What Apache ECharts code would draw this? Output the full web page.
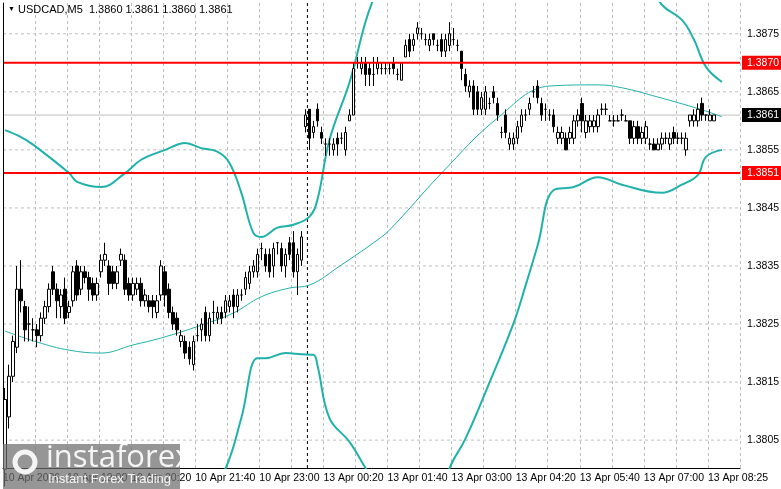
<!DOCTYPE html>
<html><head><meta charset="utf-8">
<script src="https://cdn.jsdelivr.net/npm/echarts@6/dist/echarts.min.js"></script>
<style>html,body{margin:0;padding:0;background:#fff}#c{width:781px;height:489px}</style>
</head><body><div id="c"></div>
<script>
const xTickLabels = ["10 Apr 2026","10 Apr 19:00","10 Apr 20:20","10 Apr 21:40","10 Apr 23:00","13 Apr 00:20","13 Apr 01:40","13 Apr 03:00","13 Apr 04:20","13 Apr 05:40","13 Apr 07:00","13 Apr 08:25"];
const yTickValues = [1.3805,1.3815,1.3825,1.3835,1.3845,1.3855,1.3865,1.3875];
const levels = [1.3870, 1.3851];
const lastPrice = 1.3861;
const daySeparatorBar = 76;
const opens = [1.3800,1.3809,1.3816,1.3821,1.3831,1.3828,1.3825,1.3824,1.3824,1.3823,1.3826,1.3828,1.3834,1.3831,1.3828,1.3831,1.3827,1.3829,1.3835,1.3831,
1.3834,1.3833,1.3832,1.3830,1.3834,1.3836,1.3835,1.3834,1.3832,1.3836,1.3836,1.3832,1.3830,1.3831,1.3832,1.3829,1.3829,1.3829,1.3827,1.3830,
1.3834,1.3831,1.3827,1.3826,1.3822,1.3822,1.3821,1.3818,1.3823,1.3824,1.3827,1.3823,1.3827,1.3826,1.3827,1.3827,1.3828,1.3830,1.3828,1.3830,
1.3831,1.3832,1.3834,1.3834,1.3838,1.3837,1.3837,1.3835,1.3839,1.3838,1.3835,1.3839,1.3839,1.3834,1.3836,1.3859,1.3862,1.3858,1.3862,1.3858,
1.3856,1.3856,1.3855,1.3857,1.3857,1.3855,1.3860,1.3861,1.3870,1.3869,1.3870,1.3869,1.3868,1.3869,1.3869,1.3869,1.3869,1.3870,1.3868,1.3867,
1.3871,1.3874,1.3873,1.3875,1.3875,1.3874,1.3873,1.3875,1.3873,1.3874,1.3872,1.3873,1.3874,1.3873,1.3872,1.3868,1.3865,1.3866,1.3865,1.3862,
1.3862,1.3863,1.3865,1.3863,1.3858,1.3861,1.3856,1.3856,1.3857,1.3859,1.3861,1.3862,1.3865,1.3866,1.3863,1.3862,1.3861,1.3861,1.3857,1.3857,
1.3857,1.3857,1.3857,1.3860,1.3863,1.3858,1.3859,1.3859,1.3859,1.3862,1.3862,1.3860,1.3860,1.3860,1.3861,1.3860,1.3860,1.3857,1.3859,1.3857,
1.3857,1.3856,1.3856,1.3855,1.3856,1.3857,1.3856,1.3858,1.3857,1.3857,1.3855,1.3860,1.3860,1.3860,1.3863,1.3861,1.3860,1.3860];
const closes = [1.3812,1.3816,1.3822,1.3831,1.3829,1.3824,1.3825,1.3824,1.3823,1.3826,1.3828,1.3831,1.3831,1.3829,1.3830,1.3826,1.3828,1.3834,1.3830,1.3834,
1.3833,1.3831,1.3830,1.3832,1.3836,1.3837,1.3832,1.3832,1.3834,1.3837,1.3831,1.3830,1.3832,1.3832,1.3829,1.3830,1.3828,1.3828,1.3829,1.3835,
1.3830,1.3827,1.3825,1.3824,1.3823,1.3820,1.3819,1.3822,1.3823,1.3825,1.3823,1.3826,1.3827,1.3827,1.3826,1.3829,1.3829,1.3828,1.3830,1.3830,
1.3833,1.3834,1.3835,1.3837,1.3838,1.3835,1.3834,1.3838,1.3839,1.3835,1.3837,1.3837,1.3834,1.3837,1.3840,1.3861,1.3857,1.3859,1.3860,1.3857,
1.3856,1.3856,1.3856,1.3856,1.3857,1.3858,1.3861,1.3869,1.3870,1.3870,1.3868,1.3868,1.3868,1.3870,1.3869,1.3869,1.3869,1.3869,1.3868,1.3870,
1.3873,1.3872,1.3874,1.3876,1.3875,1.3874,1.3874,1.3874,1.3873,1.3872,1.3874,1.3875,1.3874,1.3873,1.3869,1.3866,1.3866,1.3862,1.3862,1.3864,
1.3865,1.3863,1.3864,1.3861,1.3858,1.3858,1.3857,1.3857,1.3859,1.3861,1.3861,1.3863,1.3865,1.3864,1.3861,1.3862,1.3861,1.3859,1.3858,1.3858,
1.3855,1.3858,1.3860,1.3861,1.3860,1.3860,1.3860,1.3860,1.3861,1.3862,1.3862,1.3860,1.3860,1.3860,1.3861,1.3860,1.3857,1.3859,1.3857,1.3858,
1.3859,1.3856,1.3855,1.3856,1.3857,1.3857,1.3857,1.3857,1.3857,1.3857,1.3857,1.3861,1.3861,1.3862,1.3861,1.3861,1.3861,1.3861];
const lows = [1.3797,1.3807,1.3815,1.3820,1.3827,1.3822,1.3822,1.3822,1.3821,1.3822,1.3825,1.3827,1.3830,1.3826,1.3826,1.3825,1.3826,1.3828,1.3829,1.3830,
1.3832,1.3829,1.3829,1.3829,1.3833,1.3835,1.3830,1.3831,1.3831,1.3835,1.3830,1.3829,1.3829,1.3830,1.3828,1.3828,1.3827,1.3826,1.3826,1.3829,
1.3828,1.3826,1.3824,1.3823,1.3821,1.3819,1.3818,1.3817,1.3822,1.3822,1.3822,1.3822,1.3825,1.3825,1.3825,1.3826,1.3827,1.3826,1.3827,1.3829,
1.3830,1.3831,1.3833,1.3833,1.3836,1.3834,1.3833,1.3833,1.3837,1.3834,1.3833,1.3836,1.3833,1.3830,1.3835,1.3858,1.3855,1.3857,1.3859,1.3856,
1.3854,1.3854,1.3854,1.3854,1.3856,1.3854,1.3860,1.3861,1.3869,1.3868,1.3866,1.3866,1.3866,1.3868,1.3868,1.3868,1.3868,1.3868,1.3867,1.3867,
1.3871,1.3871,1.3872,1.3874,1.3874,1.3873,1.3872,1.3873,1.3872,1.3871,1.3871,1.3872,1.3873,1.3872,1.3867,1.3865,1.3864,1.3861,1.3861,1.3861,
1.3861,1.3862,1.3863,1.3860,1.3857,1.3857,1.3855,1.3855,1.3856,1.3858,1.3860,1.3861,1.3864,1.3863,1.3860,1.3860,1.3860,1.3858,1.3856,1.3856,
1.3855,1.3856,1.3856,1.3859,1.3858,1.3857,1.3858,1.3858,1.3858,1.3861,1.3861,1.3860,1.3859,1.3860,1.3860,1.3860,1.3856,1.3856,1.3856,1.3856,
1.3856,1.3855,1.3855,1.3855,1.3855,1.3856,1.3855,1.3856,1.3856,1.3856,1.3854,1.3859,1.3859,1.3859,1.3860,1.3860,1.3860,1.3860];
const highs = [1.3814,1.3818,1.3823,1.3835,1.3836,1.3829,1.3828,1.3826,1.3825,1.3827,1.3829,1.3832,1.3835,1.3832,1.3831,1.3833,1.3829,1.3835,1.3836,1.3835,
1.3835,1.3834,1.3833,1.3833,1.3837,1.3839,1.3836,1.3835,1.3835,1.3838,1.3837,1.3833,1.3833,1.3833,1.3833,1.3831,1.3830,1.3830,1.3830,1.3836,
1.3835,1.3832,1.3828,1.3827,1.3824,1.3823,1.3822,1.3823,1.3825,1.3826,1.3828,1.3827,1.3829,1.3828,1.3828,1.3830,1.3830,1.3831,1.3831,1.3831,
1.3834,1.3835,1.3836,1.3838,1.3839,1.3838,1.3838,1.3839,1.3839,1.3839,1.3838,1.3840,1.3841,1.3838,1.3841,1.3862,1.3862,1.3860,1.3863,1.3859,
1.3857,1.3857,1.3857,1.3858,1.3858,1.3859,1.3862,1.3870,1.3871,1.3871,1.3871,1.3870,1.3871,1.3871,1.3870,1.3870,1.3870,1.3871,1.3869,1.3870,
1.3874,1.3875,1.3875,1.3877,1.3876,1.3875,1.3875,1.3875,1.3874,1.3875,1.3875,1.3877,1.3876,1.3874,1.3872,1.3869,1.3867,1.3867,1.3866,1.3865,
1.3866,1.3864,1.3866,1.3864,1.3859,1.3862,1.3858,1.3858,1.3860,1.3862,1.3862,1.3864,1.3866,1.3867,1.3864,1.3863,1.3862,1.3862,1.3859,1.3859,
1.3858,1.3859,1.3861,1.3862,1.3864,1.3861,1.3861,1.3861,1.3862,1.3863,1.3863,1.3861,1.3861,1.3861,1.3862,1.3861,1.3860,1.3860,1.3860,1.3859,
1.3860,1.3857,1.3857,1.3857,1.3858,1.3858,1.3858,1.3859,1.3858,1.3858,1.3858,1.3861,1.3862,1.3863,1.3864,1.3861,1.3862,1.3861];
const upperBand = [[0,1.38584],[4,1.38572],[7,1.38559],[16,1.38510],[18,1.38495],[24,1.38486],[30,1.38510],[34,1.38533],[40,1.38550],[45,1.38562],[49,1.38553],[53,1.38547],[56,1.38528],[59,1.38476],[62,1.38407],[64,1.38400],[68,1.38416],[72,1.38421],[76,1.38435],[78,1.38464],[81,1.38567],[86,1.38666],[92,1.3881],[100,1.3890],[115,1.3900],[130,1.3902],[150,1.3893],[164,1.3880],[169,1.38774],[172,1.38740],[175,1.38693],[179,1.38667]];
const middleBand = [[0,1.38238],[8,1.38219],[16,1.38205],[24,1.38200],[32,1.38214],[39,1.38226],[49,1.38248],[57,1.38269],[64,1.38297],[71,1.38312],[76,1.38317],[84,1.38352],[92,1.38390],[96,1.38412],[109,1.38510],[123,1.38605],[136,1.38660],[148,1.38662],[154,1.38657],[163,1.38641],[174,1.38619],[179,1.38607]];
const lowerBand = [[0,1.3780],[20,1.3777],[40,1.3785],[50,1.3795],[55,1.3800],[59,1.38088],[63,1.38191],[65,1.38191],[70,1.38200],[74,1.38198],[77,1.38197],[78,1.38179],[81,1.38088],[86,1.38047],[90,1.38002],[98,1.3791],[105,1.3788],[111,1.38002],[115,1.38053],[121,1.38150],[127,1.38252],[130,1.38317],[133,1.38386],[137,1.38481],[142,1.38486],[148,1.38503],[154,1.38490],[164,1.38476],[169,1.38490],[173,1.38507],[175,1.38538],[179,1.38550]];

const N = 184, YMIN = 1.38002, YMAX = 1.38803;
const cats = []; for (let i = 0; i < N; i++) cats.push(String(i));
const candleData = opens.map((o, i) => [o, closes[i], lows[i], highs[i]]);
const FONT = 'Liberation Sans';

function hLine(v, color, width, type, label, bg) {
  return {type:'line', xAxisIndex:1, data:[[0,v],[N,v]], symbol:'none', silent:true, z:1,
    lineStyle:{color, width, type},
    endLabel:{show:true, formatter:label, color: bg ? '#fff' : '#000', backgroundColor: bg || 'transparent',
      padding: bg ? [2,4,1,5] : [0,0,0,0], fontSize:10.5, fontFamily:FONT, distance: bg ? 2 : 7}};
}
const extra = [];
yTickValues.forEach(v => extra.push(hLine(v, '#c0c0c0', 1, [3,3], v.toFixed(4), null)));
extra.push(hLine(lastPrice, '#c0c0c0', 1, 'solid', lastPrice.toFixed(4), '#000'));
levels.forEach(v => { const s = hLine(v, '#ff0000', 2, 'solid', v.toFixed(4), '#ff0000'); s.z = 4; extra.push(s); });
extra.push({type:'line', xAxisIndex:1, data:[[daySeparatorBar,YMIN],[daySeparatorBar,YMAX]], symbol:'none', silent:true, z:1,
  lineStyle:{color:'#000', width:1, type:[3,3]}});

const chart = echarts.init(document.getElementById('c'), null, {renderer:'canvas'});
chart.setOption({
  animation:false,
  backgroundColor:'#fff',
  grid:{left:3, right:41, top:3, bottom:21},
  xAxis:[
    {type:'category', data:cats, boundaryGap:true, show:false},
    {type:'value', min:0, max:N, interval:8, position:'bottom',
      axisLine:{show:true, lineStyle:{color:'#000'}},
      axisTick:{show:false},
      axisLabel:{showMaxLabel:false, formatter:(v)=> (v%16===0 ? (xTickLabels[v/16]||'') : ''), align:'left', color:'#000', fontSize:10.5, fontFamily:FONT, margin:5, hideOverlap:false},
      splitLine:{show:true, lineStyle:{color:'#c0c0c0', type:[3,3]}}}
  ],
  yAxis:{type:'value', position:'right', min:YMIN, max:YMAX,
    axisLine:{show:true, lineStyle:{color:'#000'}}, axisTick:{show:false}, axisLabel:{show:false}, splitLine:{show:false}},
  series:[
    {type:'candlestick', data:candleData, barWidth:3, z:3,
      itemStyle:{color:'#fff', color0:'#000', borderColor:'#000', borderColor0:'#000', borderWidth:1}},
    {type:'line', data:upperBand, smooth:0.4, symbol:'none', lineStyle:{color:'#20b2aa', width:2}, z:2},
    {type:'line', data:middleBand, smooth:0.4, symbol:'none', lineStyle:{color:'#20b2aa', width:1}, z:2},
    {type:'line', data:lowerBand, smooth:0.4, symbol:'none', lineStyle:{color:'#20b2aa', width:2}, z:2},
    ...extra
  ],
  graphic:[
    {type:'line', shape:{x1:3.5,y1:3,x2:3.5,y2:468}, style:{stroke:'#000', lineWidth:1}, z:10},
    {type:'text', left:8, top:6, style:{text:'▼', fontSize:7, fill:'#000'}, z:10},
    {type:'text', left:18, top:4, style:{text:'USDCAD,M5  1.3860 1.3861 1.3860 1.3861', fontSize:11, fontFamily:FONT, fill:'#000'}, z:10},
    {type:'rect', shape:{x:3, y:444, width:177, height:45}, style:{fill:'rgba(110,110,110,0.72)'}, z:20},
    {type:'circle', shape:{cx:25, cy:462, r:10}, style:{fill:'none', stroke:'rgba(255,255,255,0.9)', lineWidth:5}, z:21},
    {type:'text', left:46, top:443, style:{text:'instaforex', fontSize:31, fontFamily:'Open Sans', fill:'rgba(255,255,255,0.9)'}, z:21},
    {type:'text', left:48, top:473, style:{text:'Instant Forex Trading', fontSize:13, fontFamily:FONT, fill:'rgba(255,255,255,0.9)'}, z:21}
  ]
});
</script></body></html>
